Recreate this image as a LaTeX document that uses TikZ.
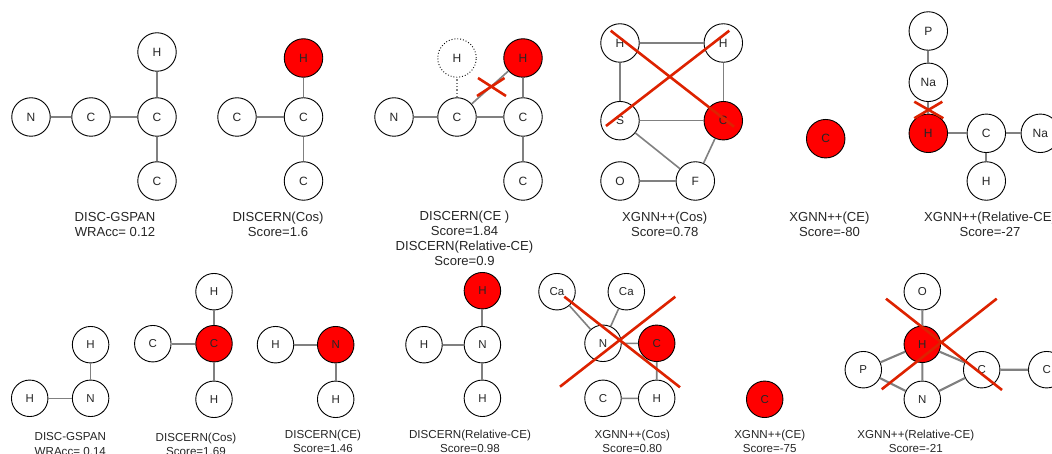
\documentclass[tikz,border=0pt]{standalone}
\usepackage{fontspec}
\setmainfont{Liberation Sans}
\definecolor{crossred}{HTML}{DD2200}
\tikzset{
  atom/.style={circle,draw=black,line width=0.9pt,fill=white,minimum size=#1,inner sep=0pt,font=\fontsize{12}{13}\selectfont,text=black!85},
  atom/.default=38.5pt,
  sm/.style={atom=36.5pt,font=\fontsize{11.5}{13}\selectfont},
  hot/.style={fill=red},
  ghost/.style={dotted},
  bond/.style={draw=black!50,line width=1.6pt},
  thick bond/.style={draw=black!50,line width=2.1pt},
  ghost bond/.style={draw=black!50,line width=1.3pt,dotted},
  cross/.style={draw=crossred,line width=2.6pt},
  lbl/.style={align=center,inner sep=0pt,font=\fontsize{13.1}{15.2}\selectfont,text=black!85},
  lblsm/.style={align=center,inner sep=0pt,font=\fontsize{11.6}{14.2}\selectfont,text=black!85}
}
\begin{document}
\begin{tikzpicture}[x=1pt,y=-1pt]
\useasboundingbox (0,0) rectangle (1052,454);
\clip (0,0) rectangle (1052,454);
% --- top row
\node[atom] (a1) at (31,117) {N};
\node[atom] (a2) at (91,117) {C};
\node[atom] (a3) at (157,117) {C};
\node[atom] (a4) at (157,52) {H};
\node[atom] (a5) at (157,181) {C};
\draw[bond] (a1)--(a2) (a2)--(a3) (a3)--(a4) (a3)--(a5);
\node[lbl] (la) at (115,224.7) {DISC-GSPAN\\WRAcc= 0.12};

\node[atom] (b1) at (237,117) {C};
\node[atom] (b2) at (303.5,117) {C};
\node[atom,hot] (b3) at (303.5,58) {H};
\node[atom] (b4) at (303.5,181) {C};
\draw[bond] (b1)--(b2) (b2)--(b3) (b2)--(b4);
\node[lbl] (lb) at (278,224.7) {DISCERN(Cos)\\Score=1.6};

\node[atom] (c1) at (394,117) {N};
\node[atom] (c2) at (457,117) {C};
\node[atom] (c3) at (523,117) {C};
\node[atom,ghost] (c4) at (457,58) {H};
\node[atom,hot] (c5) at (523,58) {H};
\node[atom] (c6) at (523,181) {C};
\draw[bond] (c1)--(c2) (c2)--(c3) (c3)--(c5) (c3)--(c6) (c2)--(c5);
\draw[ghost bond] (c2)--(c4);
\draw[cross] (477,96)--(504.5,78) (478,78)--(506,96);
\node[lbl] (lc) at (464.5,238.5) {DISCERN(CE )\\Score=1.84\\DISCERN(Relative-CE)\\Score=0.9};

\node[atom] (d1) at (620,43) {H};
\node[atom] (d2) at (723.3,43) {H};
\node[atom] (d3) at (620,120.7) {S};
\node[atom,hot] (d4) at (723.3,120.7) {C};
\node[atom] (d5) at (620,181) {O};
\node[atom] (d6) at (695.3,181) {F};
\draw[bond] (d1)--(d2) (d1)--(d3) (d2)--(d4) (d3)--(d4) (d5)--(d6);
\draw[bond] (d3)--(d6) (d4)--(d6);
\draw[cross] (610.7,30.7)--(734,126.7) (729.3,30.7)--(606,126);
\node[lbl] (ld) at (664.7,224.7) {XGNN++(Cos)\\Score=0.78};

\node[atom,hot] (e1) at (825.7,138.7) {C};
\node[lbl] (le) at (829.5,224.7) {XGNN++(CE)\\Score=-80};

\node[atom] (f1) at (928.3,31) {P};
\node[atom] (f2) at (928.3,82.3) {Na};
\node[atom,hot] (f3) at (928.3,133.3) {H};
\node[atom] (f4) at (986.3,133.3) {C};
\node[atom] (f5) at (1040.3,133.3) {Na};
\node[atom] (f6) at (986.3,181) {H};
\draw[thick bond] (f1)--(f2) (f2)--(f3) (f3)--(f4) (f4)--(f5) (f4)--(f6);
\draw[cross] (914.3,101.7)--(943.3,118.3) (914.3,118.3)--(942.3,101.7);
\node[lbl] (lf) at (990,224.7) {XGNN++(Relative-CE)\\Score=-27};

% --- bottom row
\node[sm] (g1) at (29.7,398.3) {H};
\node[sm] (g2) at (90.6,398.3) {N};
\node[sm] (g3) at (90.6,344.7) {H};
\draw[bond] (g1)--(g2) (g2)--(g3);
\node[lblsm] (lg) at (70.3,444) {DISC-GSPAN\\WRAcc= 0.14};

\node[sm] (h1) at (152.8,343.7) {C};
\node[sm,hot] (h2) at (214,343.7) {C};
\node[sm] (h3) at (214,291.7) {H};
\node[sm] (h4) at (214,399.3) {H};
\draw[bond] (h1)--(h2) (h2)--(h3) (h2)--(h4);
\node[lblsm] (lh) at (196,444) {DISCERN(Cos)\\Score=1.69};

\node[sm] (i1) at (275.5,344.7) {H};
\node[sm,hot] (i2) at (335.7,344.7) {N};
\node[sm] (i3) at (335.7,399.3) {H};
\draw[bond] (i1)--(i2) (i2)--(i3);
\node[lblsm] (li) at (323,441) {DISCERN(CE)\\Score=1.46};

\node[sm] (j1) at (424,344.7) {H};
\node[sm] (j2) at (482.4,344.7) {N};
\node[sm,hot] (j3) at (482.4,290.7) {H};
\node[sm] (j4) at (482.4,398.3) {H};
\draw[thick bond] (j1)--(j2) (j2)--(j3) (j2)--(j4);
\node[lblsm] (lj) at (470,441) {DISCERN(Relative-CE)\\Score=0.98};

\node[sm] (k1) at (557,291.7) {Ca};
\node[sm] (k2) at (626.3,291.7) {Ca};
\node[sm] (k3) at (603,343.3) {N};
\node[sm,hot] (k4) at (656.7,343.3) {C};
\node[sm] (k5) at (603,398.3) {C};
\node[sm] (k6) at (656.7,398.3) {H};
\draw[bond] (k1)--(k3) (k2)--(k3) (k3)--(k4) (k4)--(k6) (k5)--(k6);
\draw[cross] (564.3,296.7)--(680,387.3) (675.3,296.7)--(560,386.7);
\node[lblsm] (lk) at (632.3,441) {XGNN++(Cos)\\Score=0.80};

\node[sm,hot] (m1) at (764.7,399.3) {C};
\node[lblsm] (lm) at (769.7,441) {XGNN++(CE)\\Score=-75};

\node[sm] (n1) at (922.3,291.7) {O};
\node[sm,hot] (n2) at (922.3,344.3) {H};
\node[sm] (n3) at (863.3,369.7) {P};
\node[sm] (n4) at (981.7,369.7) {C};
\node[sm] (n5) at (1046.7,369.7) {C};
\node[sm] (n6) at (922.3,399.3) {N};
\draw[thick bond] (n1)--(n2) (n3)--(n2) (n2)--(n6) (n2)--(n4) (n3)--(n6) (n6)--(n4) (n4)--(n5);
\draw[cross] (886,298.7)--(1002,390) (996.7,298.7)--(881.7,389.3);
\node[lblsm] (ln) at (915.8,441) {XGNN++(Relative-CE)\\Score=-21};
\end{tikzpicture}
\end{document}
